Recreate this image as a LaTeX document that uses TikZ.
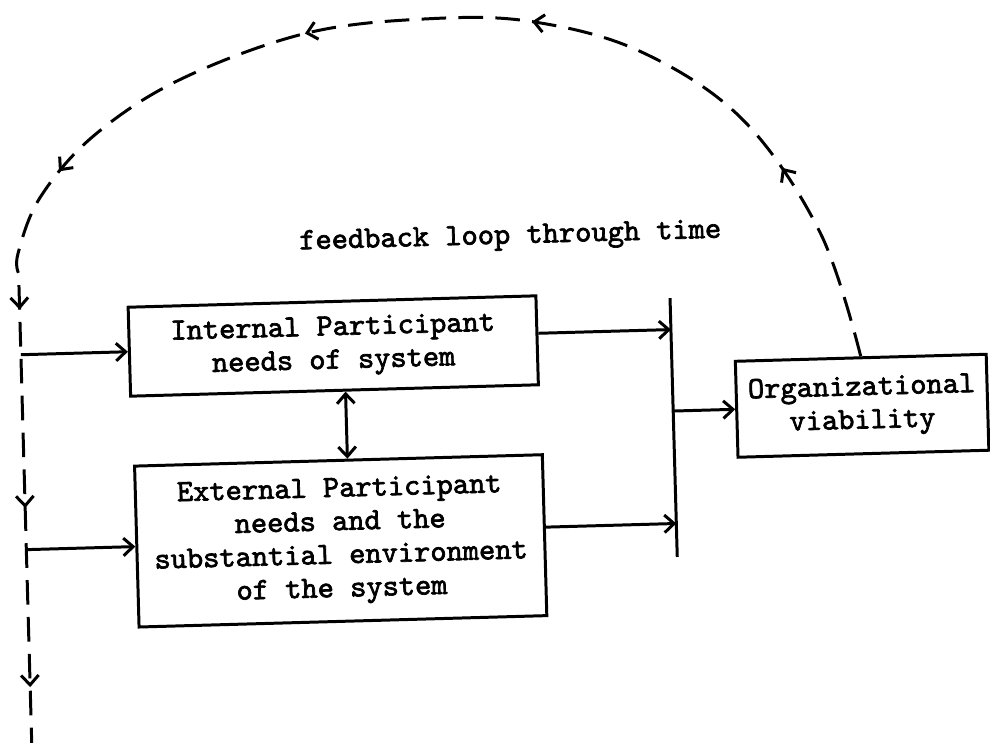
\documentclass[tikz,border=0pt]{standalone}
\usepackage{fontspec}
\newfontfamily\typewr{lmmono10-regular}[Extension=.otf,FakeBold=2.2]
\usetikzlibrary{arrows.meta,decorations.markings,calc}
\begin{document}
\begin{tikzpicture}[x=0.02cm,y=-0.02cm,
  lbl/.style={font=\typewr\bfseries\fontsize{17.6pt}{19pt}\selectfont},
  box/.style={lbl,draw,line width=1.7pt,align=center,inner sep=0pt},
  ln/.style={line width=1.7pt},
  barb/.tip={Straight Barb[length=5.5pt,width=10pt]},
  tipped/.style={ln,-barb},
  loopline/.style={line width=1.7pt,dash pattern=on 14pt off 7pt,
    postaction={decorate},
    decoration={markings,
      mark=at position 117pt with {\arrow{barb}},
      mark=at position 287pt with {\arrow{barb}},
      mark=at position 417pt with {\arrow{barb}},
      mark=at position 580pt with {\arrow{barb}},
      mark=at position -248pt with {\arrow{barb}},
      mark=at position -135pt with {\arrow{barb}},
      mark=at position -33pt with {\arrow{barb}}}}
]
\fill[white] (0,0) rectangle (990,743);
\useasboundingbox (0,0) rectangle (990,743);
\begin{scope}[transform canvas={rotate around={1.6:(495,371)}}]
  % boxes
  \node[box,minimum width=8.16cm,minimum height=1.78cm] (int) at (334,341.5)
    {Internal Participant\\needs of system};
  \node[box,minimum width=8.16cm,minimum height=3.22cm] (ext) at (336,536.5)
    {External Participant\\needs and the\\substantial environment\\of the system};
  \node[box,minimum width=5.02cm,minimum height=1.92cm] (org) at (861,416)
    {Organizational\\viability};
  \node[lbl,anchor=base] (fb) at (514,244) {feedback loop through time};
  % helper coordinates
  \coordinate (vl) at (21.5,0);
  \coordinate (bt) at (672,303);
  \coordinate (bb) at (672,562);
  \coordinate (ie) at ($(int.east)+(0,-7)$);
  \coordinate (ee) at ($(ext.east)+(0,-8)$);
  \coordinate (ds) at ($(int.south)+(11,0)$);
  % collecting bar
  \draw[ln] (bt) -- (bb);
  % inputs from feedback line
  \draw[tipped] (vl |- int.west) -- (int.west);
  \draw[tipped] (vl |- ext.west) -- (ext.west);
  % outputs to bar
  \draw[tipped] (ie) -- (ie -| bt);
  \draw[tipped] (ee) -- (ee -| bt);
  \draw[tipped] (org.west -| bt) -- (org.west);
  % mutual relation
  \draw[ln,barb-barb] (ds) -- (ds |- ext.north);
  % feedback loop
  \draw[loopline] plot[smooth,tension=0.6] coordinates {(org.north) (824,242)
    (750,127) (650,56) (543,23) (440,17) (316,28) (188,71) (100,125)
    (45,185) (21.5,240) (21.5,260)}
    -- (21.5,732);
\end{scope}
\end{tikzpicture}
\end{document}
